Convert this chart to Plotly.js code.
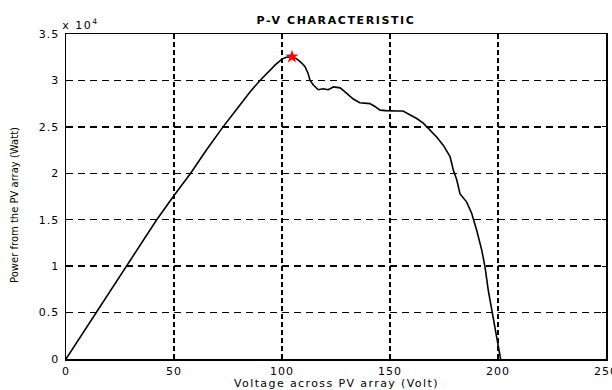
<!DOCTYPE html>
<html>
<head>
<meta charset="utf-8">
<script src="https://cdn.plot.ly/plotly-3.0.1.min.js"></script>
<style>html,body{margin:0;padding:0;background:#fff;overflow:hidden;}#chart{width:612px;height:390px;}</style>
</head>
<body>
<div id="chart"></div>
<script>
// Voltage across PV array (Volt)
const voltage = [0, 5, 10, 14.2, 20, 28.1, 35, 42, 50, 57.7, 65, 72.7, 80, 85, 89.8, 94, 97, 100, 102, 104.6,
  107, 109, 110.6, 112, 113, 114.5, 116.8, 119, 121.4, 123.8, 126.9, 128.5, 130, 133, 136, 138, 140.7, 143,
  145.4, 148, 150, 153, 156, 159, 162.4, 165.4, 168.5, 171.6, 174.7, 177.8, 179.3, 180.9, 182.4, 184, 185.5,
  187.8, 189.4, 190.1, 192.5, 194, 195.5, 197.1, 198.6, 200.1, 201.2];
// Power from the PV array, in units of 10^4 W
const powerE4 = [0, 0.18, 0.36, 0.5, 0.71, 1.0, 1.25, 1.5, 1.76, 2.0, 2.25, 2.5, 2.72, 2.87, 3.0, 3.1, 3.17, 3.23, 3.25, 3.255,
  3.23, 3.19, 3.15, 3.08, 3.0, 2.95, 2.90, 2.91, 2.90, 2.93, 2.92, 2.89, 2.86, 2.80, 2.76, 2.755, 2.75, 2.72,
  2.68, 2.675, 2.67, 2.67, 2.67, 2.63, 2.59, 2.54, 2.47, 2.39, 2.30, 2.18, 2.035, 1.93, 1.78, 1.73, 1.69,
  1.57, 1.46, 1.39, 1.17, 0.99, 0.74, 0.53, 0.35, 0.13, 0.0];
// Maximum power point
const mppVoltage = [104.6];
const mppPowerE4 = [3.255];

const xTicks = [0, 50, 100, 150, 200, 250];
const yTicks = [0, 0.5, 1, 1.5, 2, 2.5, 3, 3.5];
const yTickText = ['0', '0.5', '1', '1.5', '2', '2.5', '3', '3.5'];

const font = 'DejaVu Sans, Liberation Sans, Arial, sans-serif';

const traces = [
  {x: voltage, y: powerE4, type: 'scatter', mode: 'lines', line: {color: '#000', width: 1.6}, hoverinfo: 'skip'},
  {x: mppVoltage, y: mppPowerE4, type: 'scatter', mode: 'markers',
   marker: {symbol: 'star', color: '#ff0000', size: 10, line: {width: 0}}, hoverinfo: 'skip'}
];

const axisCommon = {
  showline: true, linecolor: '#000', linewidth: 1.5, mirror: 'ticks',
  ticks: 'inside', ticklen: 4, tickcolor: '#000', tickwidth: 1,
  showgrid: true, gridcolor: '#000', gridwidth: 1.5,
  zeroline: false, tickfont: {family: font, size: 11, color: '#000'},
  ticklabeloverflow: 'allow', fixedrange: true
};

const layout = {
  width: 612, height: 390,
  margin: {l: 66, r: 6, t: 34, b: 31},
  paper_bgcolor: '#fff', plot_bgcolor: '#fff',
  showlegend: false,
  xaxis: Object.assign({}, axisCommon, {range: [0, 250], tickvals: xTicks, griddash: '5px,3px', ticklabelstandoff: 1}),
  yaxis: Object.assign({}, axisCommon, {range: [0, 3.5], tickvals: yTicks, ticktext: yTickText, griddash: '7px,5px', ticklabelstandoff: 3}),
  annotations: [
    {text: '<b>P-V CHARACTERISTIC</b>', xref: 'paper', yref: 'paper', x: 0.5, y: 1, yshift: 14,
     showarrow: false, xanchor: 'center', yanchor: 'middle', font: {family: font, size: 11, color: '#000'}},
    {text: 'x 10<sup>4</sup>', xref: 'paper', yref: 'paper', x: 0, y: 1, yshift: 10, xshift: -2,
     showarrow: false, xanchor: 'left', yanchor: 'middle', font: {family: font, size: 11, color: '#000'}},
    {text: 'Voltage across PV array (Volt)', xref: 'paper', yref: 'paper', x: 0.5, y: 0, yshift: -24,
     showarrow: false, xanchor: 'center', yanchor: 'middle', font: {family: font, size: 11, color: '#000'}},
    {text: 'Power from the PV array (Watt)', xref: 'paper', yref: 'paper', x: 0, y: 0.474, xshift: -51,
     textangle: -90, showarrow: false, xanchor: 'center', yanchor: 'middle', font: {family: font, size: 10, color: '#000'}}
  ]
};

Plotly.newPlot('chart', traces, layout, {staticPlot: true, displayModeBar: false}).then(function (gd) {
  // widen the text a little, like the stretched MATLAB export
  gd.querySelectorAll('.xtick text, .ytick text').forEach(function (t) { t.style.letterSpacing = '1px'; });
  const ann = gd.querySelectorAll('.annotation-text');
  if (ann[0]) ann[0].style.letterSpacing = '1.6px';
  if (ann[1]) ann[1].style.letterSpacing = '1.5px';
  if (ann[2]) ann[2].style.letterSpacing = '1.4px';
});
</script>
</body>
</html>
